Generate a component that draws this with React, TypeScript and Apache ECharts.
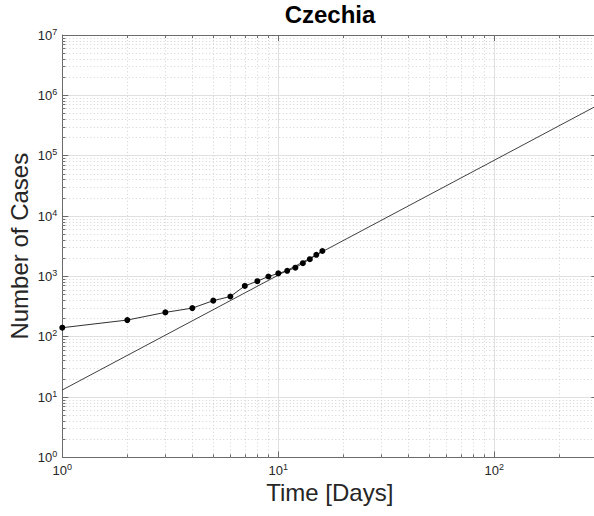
import React, { useEffect, useRef } from "react";
import * as echarts from "echarts";

// Cumulative confirmed cases, day by day
const days = [1, 2, 3, 4, 5, 6, 7, 8, 9, 10, 11, 12, 13, 14, 15, 16];
const cases = [141, 189, 253, 298, 396, 464, 694, 833, 995, 1120, 1236, 1394, 1654, 1925, 2279, 2631];

// Power-law fit drawn as a straight line in log-log space (end points)
const fitDays = [1, 300];
const fitCases = [13.1, 6.8e5];

// Axis ranges (decades)
const xRange = [1, 300];
const yRange = [1, 1e7];
const minorMultipliers = [2, 3, 4, 5, 6, 7, 8, 9];
const xDecades = [1, 10, 100];
const yDecades = [1, 10, 100, 1e3, 1e4, 1e5, 1e6];

const FONT = "Helvetica, 'Liberation Sans', Arial, sans-serif";
const TEXT = "#262626";
const AXIS = "#6b6b6b";

const powLabel = (v: number) => {
  const e = Math.log10(v);
  if (Math.abs(e - Math.round(e)) > 1e-6) return "";
  return `{b|10}{s|${Math.round(e)}}`;
};

const richLabel = {
  b: { fontSize: 13, fontFamily: FONT, color: TEXT, lineHeight: 15 },
  s: { fontSize: 9, fontFamily: FONT, color: TEXT, lineHeight: 15, padding: [0, 0, 7, 0] },
};

export default function App() {
  const ref = useRef<HTMLDivElement>(null);

  useEffect(() => {
    if (!ref.current) return;
    const chart = echarts.init(ref.current, undefined, { renderer: "svg" });

    const xMinor: number[] = [];
    xDecades.forEach((d) => minorMultipliers.forEach((m) => { if (d * m < xRange[1]) xMinor.push(d * m); }));
    const yMinor: number[] = [];
    yDecades.forEach((d) => minorMultipliers.forEach((m) => yMinor.push(d * m)));

    // dotted minor grid
    const minorGrid = [
      ...xMinor.map((v) => ({ xAxis: v })),
      ...yMinor.map((v) => ({ yAxis: v })),
    ];
    // short minor tick marks on the box edges
    const xTickLen = Math.pow(10, 3 / 216);
    const yTickLen = Math.pow(10, 3 / 60.34);
    const minorTicks: any[] = [];
    yMinor.forEach((v) => minorTicks.push([{ coord: [xRange[0], v] }, { coord: [xRange[0] * xTickLen, v] }]));
    xMinor.forEach((v) => {
      minorTicks.push([{ coord: [v, yRange[0]] }, { coord: [v, yRange[0] * yTickLen] }]);
      minorTicks.push([{ coord: [v, yRange[1]] }, { coord: [v, yRange[1] / yTickLen] }]);
    });

    const logAxisBase = {
      type: "log" as const,
      logBase: 10,
      axisLine: { show: true, lineStyle: { color: AXIS, width: 1 } },
      axisTick: { show: true, inside: true, length: 6, lineStyle: { color: AXIS } },
      minorTick: { show: false },
    };

    chart.setOption({
      animation: false,
      backgroundColor: "#ffffff",
      grid: {
        left: 62.3,
        top: 35,
        width: 535,
        height: 422.4,
        containLabel: false,
        outerBoundsMode: "none",
      },
      graphic: [
        {
          type: "text",
          x: 330,
          y: 14,
          style: {
            text: "Czechia",
            font: `bold 24px ${FONT}`,
            fill: "#000",
            textAlign: "center",
            textVerticalAlign: "middle",
          },
        },
      ],
      xAxis: [
        {
          ...logAxisBase,
          position: "bottom",
          min: xRange[0],
          max: xRange[1],
          axisLabel: { formatter: powLabel, rich: richLabel, margin: 6 },
          splitLine: { show: true, lineStyle: { color: "#e0e0e0", width: 1 } },
          name: "Time [Days]",
          nameLocation: "middle",
          nameGap: 23,
          nameMoveOverlap: false,
          nameTextStyle: { fontSize: 24, fontFamily: FONT, color: TEXT },
        },
        {
          ...logAxisBase,
          position: "top",
          min: xRange[0],
          max: xRange[1],
          axisLabel: { show: false },
          splitLine: { show: false },
        },
      ],
      yAxis: [
        {
          ...logAxisBase,
          position: "left",
          min: yRange[0],
          max: yRange[1],
          axisLabel: { formatter: powLabel, rich: richLabel, margin: 5 },
          splitLine: { show: true, lineStyle: { color: "#e0e0e0", width: 1 } },
          name: "Number of Cases",
          nameLocation: "middle",
          nameGap: 31,
          nameMoveOverlap: false,
          nameTextStyle: { fontSize: 24, fontFamily: FONT, color: TEXT },
        },
        {
          ...logAxisBase,
          position: "right",
          min: yRange[0],
          max: yRange[1],
          axisLabel: { show: false },
          splitLine: { show: false },
        },
      ],
      series: [
        {
          type: "line",
          xAxisIndex: 0,
          yAxisIndex: 0,
          data: [],
          z: 1,
          silent: true,
          markLine: {
            z: 1,
            silent: true,
            symbol: "none",
            label: { show: false },
            lineStyle: { type: [1, 2.5], color: "#d2d2d2", width: 1 },
            data: minorGrid,
          },
        },
        {
          type: "line",
          xAxisIndex: 0,
          yAxisIndex: 0,
          data: [],
          z: 2,
          silent: true,
          markLine: {
            z: 2,
            silent: true,
            symbol: "none",
            label: { show: false },
            lineStyle: { type: "solid", color: AXIS, width: 1 },
            data: minorTicks,
          },
        },
        {
          name: "Fit",
          type: "line",
          xAxisIndex: 0,
          yAxisIndex: 0,
          data: fitDays.map((d, i) => [d, fitCases[i]]),
          showSymbol: false,
          symbol: "none",
          lineStyle: { color: "#2a2a2a", width: 0.9 },
          z: 3,
        },
        {
          name: "Cases",
          type: "line",
          xAxisIndex: 0,
          yAxisIndex: 0,
          data: days.map((d, i) => [d, cases[i]]),
          symbol: "circle",
          symbolSize: 6,
          showSymbol: true,
          itemStyle: { color: "#000" },
          lineStyle: { color: "#1a1a1a", width: 0.9 },
          z: 4,
        },
      ],
    });

    return () => chart.dispose();
  }, []);

  return (
    <div
      ref={ref}
      style={{ position: "fixed", left: 0, top: 0, width: 604, height: 516, background: "#fff" }}
    />
  );
}
